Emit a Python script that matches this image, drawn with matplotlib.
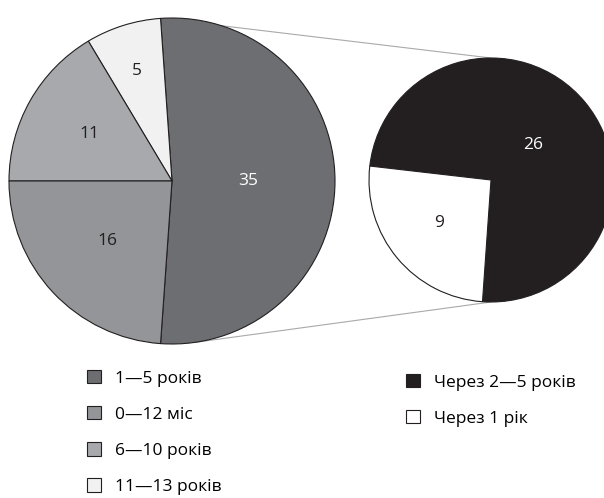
import numpy as np
import matplotlib
import matplotlib.pyplot as plt
from matplotlib.patches import Patch

matplotlib.rc('font', family=['Open Sans', 'DejaVu Sans'])

# основна діаграма
main_labels = ["1—5 років", "11—13 років", "6—10 років", "0—12 міс"]
main_values = [35, 5, 11, 16]
main_colors = ["#6d6e71", "#f1f1f2", "#a7a9ac", "#939598"]
main_text = ["white", "#231f20", "#231f20", "#231f20"]
main_dist = [0.47, 0.71, 0.58, 0.54]

# розбивка сектора «1—5 років»
sub_labels = ["Через 2—5 років", "Через 1 рік"]
sub_values = [26, 9]
sub_colors = ["#231f20", "#ffffff"]
sub_text = ["white", "#231f20"]
sub_dist = [0.45, 0.55]

W, H = 604, 498
fig = plt.figure(figsize=(W / 100, H / 100), dpi=100)
ax = fig.add_axes([0, 0, 1, 1])

c1, r1 = (172, H - 181), 163
c2, r2 = (491, H - 180), 122

wp = dict(edgecolor="#231f20", linewidth=0.8)
start1 = -0.5 * 360 * main_values[0] / sum(main_values)
w1, _ = ax.pie(main_values, colors=main_colors, center=c1, radius=r1,
               startangle=start1, counterclock=True, wedgeprops=wp,
               frame=True)
w2, _ = ax.pie(sub_values, colors=sub_colors, center=c2, radius=r2,
               startangle=266, counterclock=True, wedgeprops=wp,
               frame=True)
ax.set_xlim(0, W)
ax.set_ylim(0, H)
ax.set_aspect('equal')
ax.axis('off')


def put_labels(wedges, values, dist, colors, center, radius):
    for w, v, d, col in zip(wedges, values, dist, colors):
        a = np.deg2rad((w.theta1 + w.theta2) / 2)
        ax.text(center[0] + d * radius * np.cos(a),
                center[1] + d * radius * np.sin(a),
                str(v), ha='center', va='center', fontsize=12.5, color=col)


put_labels(w1, main_values, main_dist, main_text, c1, r1)
put_labels(w2, sub_values, sub_dist, sub_text, c2, r2)

# лінії від сектора 35 до другої діаграми
t1, t2 = np.deg2rad(w1[0].theta1), np.deg2rad(w1[0].theta2)
for ang, (px, py) in [(t2, (c2[0], c2[1] + r2)), (t1 + np.deg2rad(12), (c2[0], c2[1] - r2))]:
    ax.plot([c1[0] + r1 * np.cos(ang), px], [c1[1] + r1 * np.sin(ang), py],
            color="#a7a9ac", linewidth=0.8, zorder=0)

# легенди
leg_kw = dict(loc='upper left', frameon=False, fontsize=12.5,
              handlelength=0.8, handleheight=0.8, handletextpad=0.8,
              labelspacing=1.12, borderpad=0, borderaxespad=0)
order = [0, 3, 2, 1]
h1 = [Patch(facecolor=main_colors[i], edgecolor="#231f20", linewidth=0.8) for i in order]
leg1 = ax.legend(h1, [main_labels[i] for i in order],
                 bbox_to_anchor=(87 / W, 1 - 370 / H), **leg_kw)
ax.add_artist(leg1)
h2 = [Patch(facecolor=c, edgecolor="#231f20", linewidth=0.8) for c in sub_colors]
ax.legend(h2, sub_labels, bbox_to_anchor=(406 / W, 1 - 374 / H), **leg_kw)

fig.savefig("out.png", dpi=100)
